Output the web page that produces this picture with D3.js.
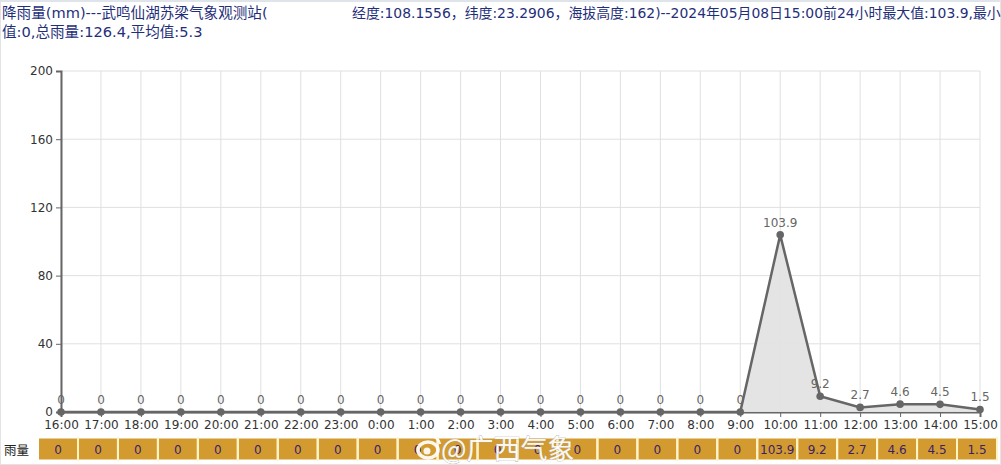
<!DOCTYPE html>
<html>
<head>
<meta charset="utf-8">
<script src="https://cdn.jsdelivr.net/npm/d3@7"></script>
<style>
  html, body { margin: 0; padding: 0; background: #fff; overflow: hidden; }
  svg { display: block; font-family: "Noto Sans CJK SC", "DejaVu Sans", sans-serif; }
</style>
</head>
<body>
<svg id="chart" width="1001" height="465"></svg>
<script>
// Hourly rainfall, 24 hours ending 2024-05-08 15:00
const hours = ["16:00","17:00","18:00","19:00","20:00","21:00","22:00","23:00","0:00","1:00","2:00","3:00",
               "4:00","5:00","6:00","7:00","8:00","9:00","10:00","11:00","12:00","13:00","14:00","15:00"];
const rain = [0,0,0,0,0,0,0,0,0,0,0,0,0,0,0,0,0,0,103.9,9.2,2.7,4.6,4.5,1.5];
const yTicks = [0,40,80,120,160,200];
const titleLeft = "降雨量(mm)---武鸣仙湖苏梁气象观测站(";
const titleRight = "经度:108.1556，纬度:23.2906，海拔高度:162)--2024年05月08日15:00前24小时最大值:103.9,最小";
const titleLine2 = "值:0,总雨量:126.4,平均值:5.3";
const rowLabel = "雨量";

(function () {
const svg = d3.select("#chart");
const W = 1001, H = 465;
const plotL = 61, plotR = 980, plotT = 71, plotB = 412;
const latin = "'DejaVu Sans', 'Noto Sans CJK SC', sans-serif";

// page frame
svg.append("rect").attr("x", 0.5).attr("y", 0.5).attr("width", W - 1).attr("height", H - 1)
  .attr("fill", "none").attr("stroke", "#e4e4e4");
svg.append("rect").attr("x", 0).attr("y", 0).attr("width", W).attr("height", 2).attr("fill", "#dfe3ea");

// titles
const titleColor = "#1f2f7a";
const title = svg.append("g").attr("font-size", 14.6).attr("fill", titleColor).attr("font-family", latin);
title.append("text").attr("x", 2).attr("y", 18).text(titleLeft);
title.append("text").attr("x", 352).attr("y", 18).attr("font-size", 13.9).text(titleRight);
title.append("text").attr("x", 2).attr("y", 37).text(titleLine2);

const x = d3.scalePoint().domain(hours).range([plotL, plotR]);
const y = d3.scaleLinear().domain([0, 200]).range([plotB, plotT]);

// grid
const grid = svg.append("g");
grid.selectAll("line.v").data(hours).join("line")
  .attr("x1", d => x(d)).attr("x2", d => x(d)).attr("y1", plotT).attr("y2", plotB)
  .attr("stroke", "#e0e0e0").attr("stroke-width", 1);
grid.selectAll("line.h").data(yTicks).join("line")
  .attr("x1", plotL).attr("x2", plotR).attr("y1", d => y(d)).attr("y2", d => y(d))
  .attr("stroke", "#e0e0e0").attr("stroke-width", 1);

// y axis
const yAxis = svg.append("g").attr("transform", `translate(${plotL},0)`)
  .call(d3.axisLeft(y).tickValues(yTicks).tickSize(5).tickPadding(3));
yAxis.select(".domain").attr("stroke", "#666").attr("stroke-width", 2);
yAxis.selectAll(".tick line").attr("stroke", "#666");
yAxis.selectAll(".tick text").attr("font-size", 12).attr("fill", "#333").attr("font-family", latin);

// x axis
const xAxis = svg.append("g").attr("transform", `translate(0,${plotB})`)
  .call(d3.axisBottom(x).tickSize(5).tickPadding(3));
xAxis.select(".domain").attr("stroke", "#666").attr("stroke-width", 2);
xAxis.selectAll(".tick line").attr("stroke", "#666");
xAxis.selectAll(".tick text").attr("font-size", 12).attr("fill", "#333").attr("font-family", latin);

// area + line
const pts = hours.map((h, i) => ({ h, v: rain[i] }));
svg.append("path").datum(pts)
  .attr("d", d3.area().x(d => x(d.h)).y0(y(0)).y1(d => y(d.v)))
  .attr("fill", "#e3e3e3").attr("opacity", 0.95);
svg.append("path").datum(pts)
  .attr("d", d3.line().x(d => x(d.h)).y(d => y(d.v)))
  .attr("fill", "none").attr("stroke", "#666").attr("stroke-width", 2.5);
svg.selectAll("circle.pt").data(pts).join("circle")
  .attr("cx", d => x(d.h)).attr("cy", d => y(d.v)).attr("r", 3.8).attr("fill", "#666");
svg.selectAll("text.val").data(pts).join("text")
  .attr("x", d => x(d.h)).attr("y", d => y(d.v) - 8)
  .attr("text-anchor", "middle").attr("font-size", 12).attr("fill", "#666")
  .attr("font-family", latin)
  .text(d => d.v);

// data table row
svg.append("text").attr("x", 4).attr("y", 455).attr("font-size", 12.5).attr("fill", "#222").text(rowLabel);
const cellW = x.step();
const table = svg.append("g");
table.selectAll("rect").data(pts).join("rect")
  .attr("x", d => x(d.h) - cellW / 2 - 2).attr("y", 438.5)
  .attr("width", cellW - 2).attr("height", 21)
  .attr("fill", "#d39b2f");
table.selectAll("line").data(pts).join("line")
  .attr("x1", d => x(d.h) + cellW / 2 - 3).attr("x2", d => x(d.h) + cellW / 2 - 3)
  .attr("y1", 437).attr("y2", 461).attr("stroke", "#fff4c2").attr("stroke-width", 2);
table.selectAll("text").data(pts).join("text")
  .attr("x", d => x(d.h) - 3).attr("y", 454)
  .attr("text-anchor", "middle").attr("font-size", 12).attr("fill", "#3a1f6b")
  .attr("font-family", latin)
  .text(d => d.v);

// watermark
const wm = svg.append("g").attr("opacity", 0.92);
wm.append("ellipse").attr("cx", 428).attr("cy", 450).attr("rx", 10).attr("ry", 8)
  .attr("fill", "none").attr("stroke", "#fff").attr("stroke-width", 3.5);
wm.append("circle").attr("cx", 427).attr("cy", 451).attr("r", 3.5).attr("fill", "#fff");
wm.append("path").attr("d", "M430,436 A10,10 0 0 1 440,444").attr("fill", "none")
  .attr("stroke", "#fff").attr("stroke-width", 2.5);
wm.append("text").attr("x", 441).attr("y", 459).attr("font-size", 27).attr("fill", "#fff")
  .attr("stroke", "#aaa").attr("stroke-width", 0.7).attr("paint-order", "stroke")
  .text("@广西气象");
})();
</script>
</body>
</html>
